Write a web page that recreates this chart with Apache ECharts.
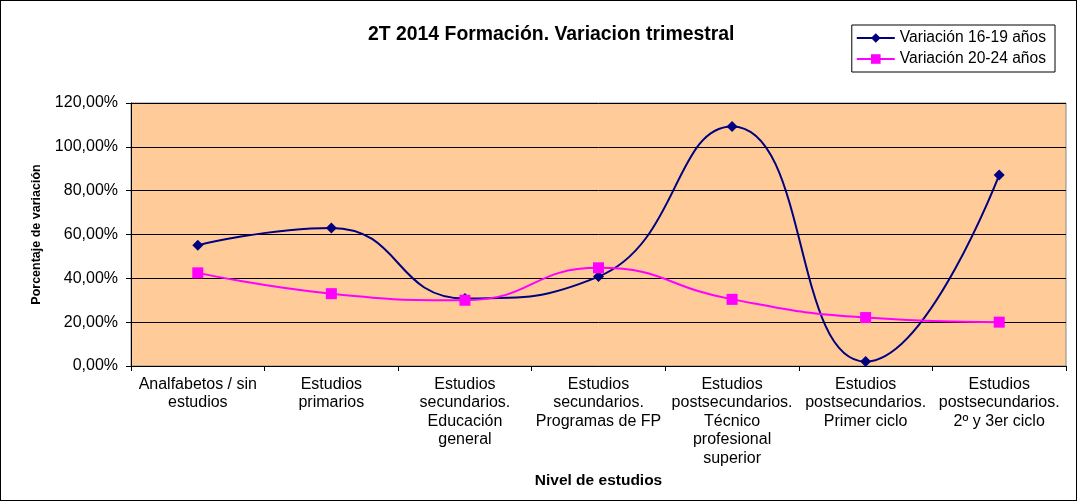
<!DOCTYPE html>
<html>
<head>
<meta charset="utf-8">
<script src="https://cdn.jsdelivr.net/npm/echarts@6/dist/echarts.min.js"></script>
<style>
  html, body { margin: 0; padding: 0; background: #fff; }
  #chart { width: 1077px; height: 501px; box-sizing: border-box; border: 1px solid #000; }
</style>
</head>
<body>
<div id="chart"></div>
<script>
const categories = [
  "Analfabetos / sin\nestudios",
  "Estudios\nprimarios",
  "Estudios\nsecundarios.\nEducación\ngeneral",
  "Estudios\nsecundarios.\nProgramas de FP",
  "Estudios\npostsecundarios.\nTécnico\nprofesional\nsuperior",
  "Estudios\npostsecundarios.\nPrimer ciclo",
  "Estudios\npostsecundarios.\n2º y 3er ciclo"
];
const var1619 = [55.1, 63.0, 30.8, 40.8, 109.3, 2.0, 87.2];
const var2024 = [42.5, 33.0, 30.0, 44.8, 30.4, 22.1, 20.0];

const chart = echarts.init(document.getElementById("chart"), null, { renderer: "canvas" });
const font = "Liberation Sans, Arial, sans-serif";

chart.setOption({
  animation: false,
  textStyle: { fontFamily: font },
  title: {
    text: "2T 2014 Formación. Variacion trimestral",
    left: 362,
    top: 19,
    textStyle: { fontSize: 19.4, fontWeight: "bold", color: "#000", fontFamily: font }
  },
  legend: {
    orient: "vertical",
    right: 21,
    top: 24,
    itemWidth: 38,
    itemHeight: 12,
    itemGap: 5,
    padding: [5, 9, 5, 4],
    borderColor: "#000",
    borderWidth: 1,
    backgroundColor: "#fff",
    textStyle: { fontSize: 15.6, color: "#000", fontFamily: font },
    data: ["Variación 16-19 años", "Variación 20-24 años"]
  },
  grid: { left: 130, right: 10, top: 102, bottom: 134, containLabel: false,
          show: true, backgroundColor: "#FFCC99", borderColor: "#888", borderWidth: 1 },
  xAxis: {
    type: "category",
    data: categories,
    boundaryGap: true,
    name: "Nivel de estudios",
    nameLocation: "middle",
    nameGap: 107,
    nameTextStyle: { fontSize: 15.5, fontWeight: "bold", color: "#000", fontFamily: font },
    axisLine: { lineStyle: { color: "#000" } },
    axisTick: { show: true, length: 5, lineStyle: { color: "#000" } },
    axisLabel: { interval: 0, fontSize: 16, color: "#000", lineHeight: 18.5, margin: 9, fontFamily: font }
  },
  yAxis: {
    type: "value",
    min: 0,
    max: 120,
    interval: 20,
    name: "Porcentaje de variación",
    nameLocation: "middle",
    nameGap: 88,
    nameTextStyle: { fontSize: 12.5, fontWeight: "bold", color: "#000", fontFamily: font },
    axisLine: { show: true, lineStyle: { color: "#000" } },
    axisTick: { show: true, length: 5, lineStyle: { color: "#000" } },
    axisLabel: { fontSize: 16, color: "#000", margin: 13, fontFamily: font,
                 formatter: v => v.toFixed(2).replace(".", ",") + "%" },
    splitLine: { show: true, lineStyle: { color: "#000", width: 1 } }
  },
  series: [
    {
      name: "Variación 16-19 años",
      type: "line",
      smooth: 0.5,
      data: var1619,
      symbol: "diamond",
      symbolSize: 11,
      lineStyle: { color: "#000080", width: 2 },
      itemStyle: { color: "#000080" }
    },
    {
      name: "Variación 20-24 años",
      type: "line",
      smooth: 0.5,
      data: var2024,
      symbol: "rect",
      symbolSize: 11,
      lineStyle: { color: "#FF00FF", width: 2 },
      itemStyle: { color: "#FF00FF" }
    }
  ]
});
</script>
</body>
</html>
